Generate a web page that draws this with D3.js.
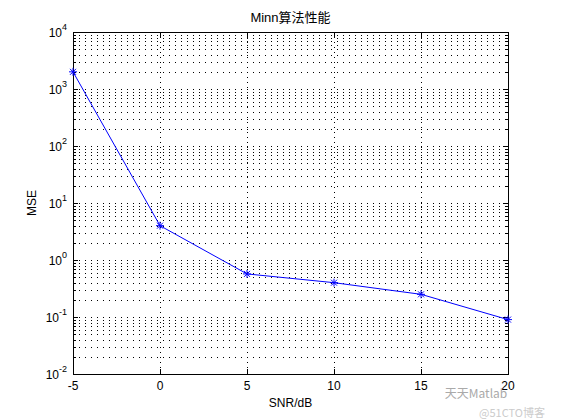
<!DOCTYPE html><html><head><meta charset="utf-8"><script src="https://cdn.jsdelivr.net/npm/d3@7"></script>
<style>body{margin:0;background:#fff}</style></head><body><svg id="c" width="561" height="420"></svg>
<script>
const snr=[-5,0,5,10,15,20];
const mse=[2000,4,0.57,0.4,0.25,0.09];
const xTicks=[-5,0,5,10,15,20];
const yDecades=[-2,-1,0,1,2,3,4];
const svg=d3.select("#c");
const L=73,R=508,T=32,B=374;
const x=d3.scaleLinear().domain([-5,20]).range([L,R]);
const y=d3.scaleLog().domain([1e-2,1e4]).range([B,T]);
const g=svg.append("g").attr("shape-rendering","crispEdges");
const px=v=>Math.round(v)+0.5;
xTicks.forEach(t=>g.append("line").attr("x1",px(x(t))).attr("x2",px(x(t))).attr("y1",T).attr("y2",B).attr("stroke","#000").attr("stroke-dasharray","1,4"));
yDecades.slice(0,-1).forEach(d=>{for(let m=1;m<10;m++){const v=m*Math.pow(10,d);g.append("line").attr("x1",L).attr("x2",R).attr("y1",px(y(v))).attr("y2",px(y(v))).attr("stroke","#000").attr("stroke-dasharray","1,5");}});
g.append("rect").attr("x",L+0.5).attr("y",T+0.5).attr("width",R-L).attr("height",B-T).attr("fill","none").attr("stroke","#000");
xTicks.forEach(t=>{g.append("line").attr("x1",px(x(t))).attr("x2",px(x(t))).attr("y1",B).attr("y2",B-5).attr("stroke","#000");g.append("line").attr("x1",px(x(t))).attr("x2",px(x(t))).attr("y1",T).attr("y2",T+5).attr("stroke","#000");
 svg.append("text").attr("x",x(t)).attr("y",B+16).attr("text-anchor","middle").attr("font-family","Liberation Sans,Arial").attr("font-size",12).text(t);});
yDecades.forEach(d=>{const v=Math.pow(10,d);
 [[L,L+5],[R,R-5]].forEach(p=>g.append("line").attr("x1",p[0]).attr("x2",p[1]).attr("y1",px(y(v))).attr("y2",px(y(v))).attr("stroke","#000"));
 if(d<4)for(let m=2;m<10;m++){const vv=m*v;[[L,L+3],[R,R-3]].forEach(p=>g.append("line").attr("x1",p[0]).attr("x2",p[1]).attr("y1",px(y(vv))).attr("y2",px(y(vv))).attr("stroke","#000"));}
 const t=svg.append("text").attr("x",L-6).attr("y",y(v)+5).attr("text-anchor","end").attr("font-family","Liberation Sans,Arial").attr("font-size",12);
 t.append("tspan").text("10");t.append("tspan").attr("dy",-7).attr("font-size",9).text(d);});
svg.append("path").datum(snr.map((s,i)=>[s,mse[i]])).attr("fill","none").attr("stroke","#00f").attr("d",d3.line().x(d=>x(d[0])).y(d=>y(d[1])));
snr.forEach((s,i)=>{const cx=x(s),cy=y(mse[i]);svg.append("path").attr("d",`M${cx-4},${cy}H${cx+4}M${cx},${cy-4}V${cy+4}M${cx-3},${cy-3}L${cx+3},${cy+3}M${cx-3},${cy+3}L${cx+3},${cy-3}`).attr("stroke","#00f");});
svg.append("text").attr("x",(L+R)/2).attr("y",22).attr("text-anchor","middle").attr("font-family","Liberation Sans,Noto Sans CJK SC").attr("font-size",13).text("Minn算法性能");
svg.append("text").attr("x",(L+R)/2).attr("y",407).attr("text-anchor","middle").attr("font-family","Liberation Sans,Arial").attr("font-size",12).text("SNR/dB");
svg.append("text").attr("transform",`translate(36,${(T+B)/2}) rotate(-90)`).attr("text-anchor","middle").attr("font-family","Liberation Sans,Arial").attr("font-size",12).text("MSE");
svg.append("text").attr("x",476).attr("y",398).attr("text-anchor","middle").attr("font-family","Noto Sans CJK SC").attr("font-size",12).attr("fill","#aaa").text("天天Matlab");
svg.append("text").attr("x",512).attr("y",417).attr("text-anchor","middle").attr("font-family","Noto Sans CJK SC").attr("font-size",11).attr("fill","#ccc").text("@51CTO博客");
</script></body></html>
